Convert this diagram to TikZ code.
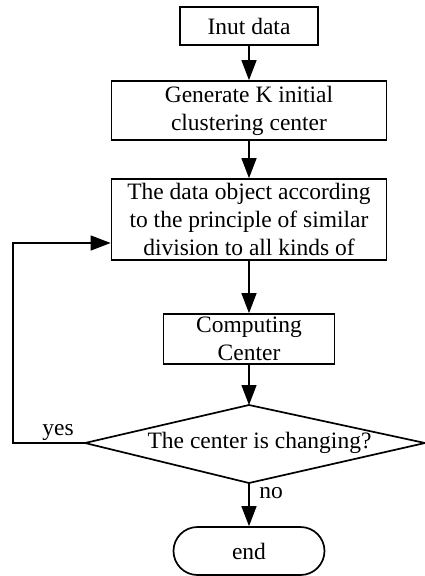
\documentclass[tikz,border=0pt]{standalone}
\usepackage{fontspec}
\setmainfont{Liberation Serif}
\usetikzlibrary{arrows.meta,positioning}

\tikzset{
  box/.style={draw, line width=1.7pt, inner sep=0pt, align=center,
    font=\fontsize{23.5}{28}\selectfont},
  flow/.style={-{Triangle[length=20pt,width=15pt]}, line width=1.3pt},
  lbl/.style={font=\fontsize{23.5}{28}\selectfont, inner sep=0pt}
}

\begin{document}
\begin{tikzpicture}[x=1pt, y=-1pt, line width=1.7pt]
  \useasboundingbox (0,0) rectangle (425,576);
  % Process boxes
  \node[box, minimum width=138pt, minimum height=38pt] (input) at (249,26) {Inut data};
  \node[box, minimum width=275pt, minimum height=59pt] (gen) at (249,110.5)
    {Generate K initial\\clustering center};
  \node[box, minimum width=275pt, minimum height=81pt] (divide) at (249,219.5)
    {The data object according\\to the principle of similar\\division to all kinds of};
  \node[box, minimum width=171pt, minimum height=50pt] (comp) at (249,339)
    {Computing\\Center};
  % Decision diamond
  \coordinate (dtop) at (249,405);
  \coordinate (dright) at (425,443);
  \coordinate (dbot) at (249,483);
  \coordinate (dleft) at (85,443);
  \draw[line join=miter] (dtop) -- (dright) -- (dbot) -- (dleft) -- cycle;
  \node[lbl] (check) at (259.5,443) {The center is changing?};
  % Terminal
  \node[box, rounded corners=24pt, minimum width=151pt, minimum height=48pt] (stop) at (249,551) {end};
  % Connectors
  \draw[flow] (input) -- (gen);
  \draw[flow] (gen) -- (divide);
  \draw[flow] (divide) -- (comp);
  \draw[flow] (comp) -- (dtop);
  \draw[flow] (dbot) -- (stop);
  \coordinate (back) at (13,443);
  \draw[flow] (dleft) -- (back) |- ([yshift=-23.5pt]divide.west);
  \node[lbl] (yes) at (58,432) {yes};
  \node[lbl] (no) at (271,493) {no};
\end{tikzpicture}
\end{document}
